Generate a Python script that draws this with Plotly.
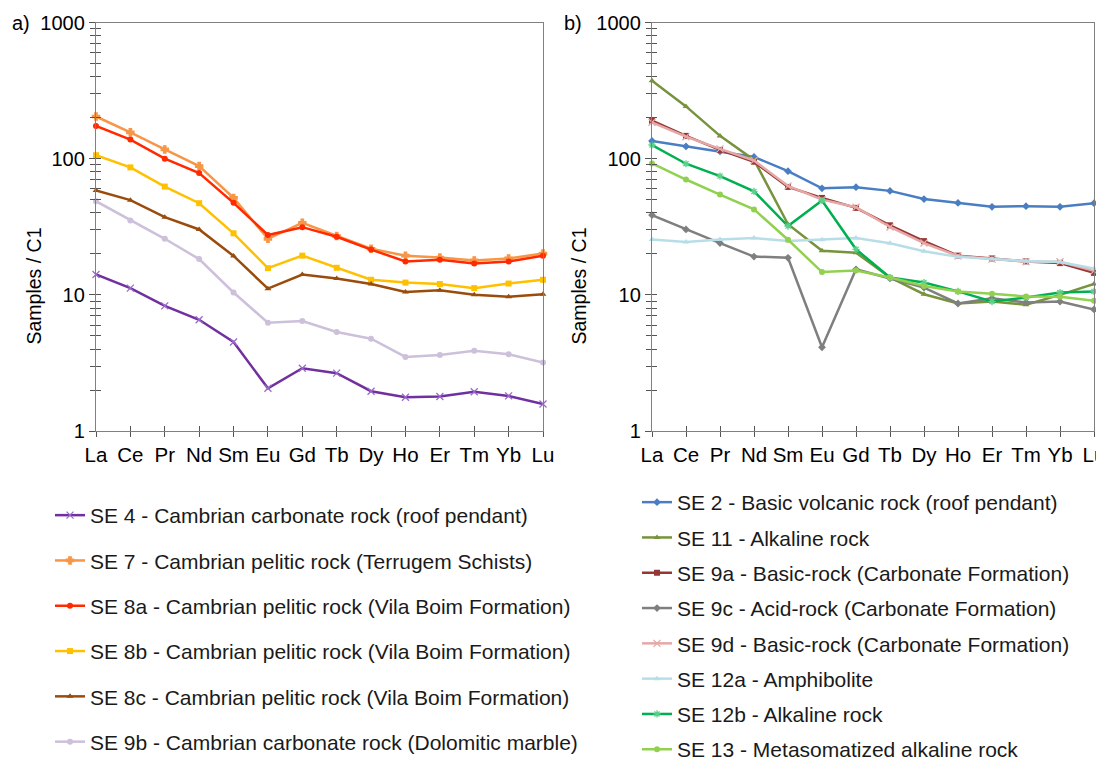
import plotly.graph_objects as go

ree = ["La", "Ce", "Pr", "Nd", "Sm", "Eu", "Gd", "Tb", "Dy", "Ho", "Er", "Tm", "Yb", "Lu"]

# Panel a)
se4 = [14.1, 11.2, 8.3, 6.56, 4.5, 2.06, 2.89, 2.66, 1.96, 1.77, 1.79, 1.94, 1.81, 1.58]
se7 = [204, 156, 117, 88.3, 51.5, 25.8, 33.8, 27.0, 21.8, 19.4, 18.8, 17.9, 18.5, 20.1]
se8a = [174, 138, 100, 78.5, 47.4, 27.5, 31.4, 26.7, 21.5, 17.6, 18.1, 17.0, 17.6, 19.4]
se8b = [106, 86.3, 62.4, 47.1, 28.3, 15.7, 19.4, 15.8, 12.9, 12.3, 12.0, 11.2, 12.1, 12.9]
se8c = [58.3, 49.6, 37.2, 30.2, 19.3, 11.1, 14.1, 13.2, 12.0, 10.5, 10.8, 10.0, 9.67, 10.1]
se9b = [48.7, 35.2, 25.8, 18.3, 10.4, 6.24, 6.42, 5.33, 4.76, 3.50, 3.62, 3.89, 3.66, 3.18]

# Panel b)
se2 = [135, 123, 113, 103, 81, 60.6, 61.7, 58, 50.5, 47.3, 44.3, 44.8, 44.3, 47.1]
se11 = [374, 242, 147, 98, 33, 21.1, 20.4, 13.4, 10.1, 8.64, 8.93, 8.45, 10.0, 12.0]
se9a = [190, 147, 116, 95, 62, 51.5, 43.5, 32.4, 24.8, 19.4, 18.5, 17.6, 17.1, 14.5]
se9c = [38.5, 30.2, 24.0, 19.1, 18.7, 4.12, 15.4, 13.2, 11.3, 8.64, 9.45, 8.79, 8.93, 7.81]
se9d = [185, 145, 118, 97, 63, 50, 44, 31.5, 24, 19.3, 18.3, 17.5, 17.5, 15.0]
se12a = [25.5, 24.4, 25.5, 26.1, 24.8, 25.4, 26.1, 23.9, 20.9, 19.0, 18.3, 17.7, 17.4, 15.6]
se12b = [126, 91.8, 74.5, 57.5, 32, 49.3, 21.6, 13.4, 12.3, 10.6, 8.93, 9.56, 10.4, 10.6]
se13 = [92.3, 70.3, 54.5, 42.4, 25.4, 14.7, 15.1, 13.4, 11.6, 10.6, 10.2, 9.72, 9.67, 9.04]

left_series = [
    ("SE 4 - Cambrian carbonate rock (roof pendant)", se4, "#7030A0", "x-thin", "#9A6CC8"),
    ("SE 7 - Cambrian pelitic rock (Terrugem Schists)", se7, "#F79646", "cross", "#F79646"),
    ("SE 8a - Cambrian pelitic rock (Vila Boim Formation)", se8a, "#FF2A00", "circle", "#FF2A00"),
    ("SE 8b - Cambrian pelitic rock (Vila Boim Formation)", se8b, "#FFC000", "square", "#FFC000"),
    ("SE 8c - Cambrian pelitic rock (Vila Boim Formation)", se8c, "#994C0C", "triangle-up", "#994C0C"),
    ("SE 9b - Cambrian carbonate rock (Dolomitic marble)", se9b, "#CCC0DA", "circle", "#CCC0DA"),
]
right_series = [
    ("SE 2 - Basic volcanic rock (roof pendant)", se2, "#4A7EC3", "diamond", "#4A7EC3"),
    ("SE 11 - Alkaline rock", se11, "#77933C", "triangle-up", "#77933C"),
    ("SE 9a - Basic-rock (Carbonate Formation)", se9a, "#953735", "square", "#953735"),
    ("SE 9c - Acid-rock (Carbonate Formation)", se9c, "#7F7F7F", "diamond", "#7F7F7F"),
    ("SE 9d - Basic-rock (Carbonate Formation)", se9d, "#E6A8A6", "x-thin", "#E6A8A6"),
    ("SE 12a - Amphibolite", se12a, "#B7DEE8", "triangle-up", "#B7DEE8"),
    ("SE 12b - Alkaline rock", se12b, "#00B050", "asterisk", "#5CD08A"),
    ("SE 13 - Metasomatized alkaline rock", se13, "#92D050", "circle", "#92D050"),
]

xs = list(range(len(ree)))
fig = go.Figure()

def add(series, xa, ya, legend, start):
    for k, (name, vals, col, sym, mcol) in enumerate(series):
        thin = sym in ("x-thin", "asterisk", "cross")
        fig.add_trace(go.Scatter(
            x=xs, y=vals, name=name, mode="lines+markers",
            xaxis=xa, yaxis=ya, legend=legend, legendgroup="g%d" % (start + k),
            cliponaxis=False,
            line=dict(color=col, width=2.5),
            marker=dict(symbol=sym, size=6 if sym != "x-thin" else 7, color=mcol,
                        line=dict(color=mcol, width=1.3 if thin else 0)),
        ))

add(left_series, "x", "y", "legend", 0)
add(right_series, "x2", "y2", "legend2", 10)

# The page body adds an 8px offset; work in screen pixels and subtract it.
OFF = 8
W, H = 1104 - OFF, 761 - OFF

def px(v):
    return (v - OFF) / W

def py(v):
    return 1 - (v - OFF) / H

L1, R1 = 96, 543
L2, R2 = 652, 1094
T, B = 22.5, 431
dx1 = [px(L1), px(R1)]
dx2 = [px(L2), px(R2)]
dy = [py(B), py(T)]

font = "Liberation Sans, Arial, Helvetica, sans-serif"
axcol = "#808080"
tcol = "#555555"

def xaxis(domain, anchor):
    return dict(domain=domain, anchor=anchor, range=[0, 13], tickvals=xs, ticktext=ree,
                showgrid=False, zeroline=False, showline=True, linecolor=axcol, linewidth=1.3,
                mirror=True, ticks="outside", ticklen=5, tickcolor=tcol,
                ticklabeloverflow="allow",
                tickfont=dict(size=20.5, color="black", family=font))

def yaxis(domain, anchor):
    return dict(domain=domain, anchor=anchor, type="log", range=[0, 3],
                tickvals=[1, 10, 100, 1000], ticktext=["1", "10", "100", "1000"],
                showgrid=False, zeroline=False, showline=True, linecolor=axcol, linewidth=1.3,
                mirror=True, ticks="outside", ticklen=6, tickcolor=tcol,
                ticklabeloverflow="allow",
                tickfont=dict(size=20, color="black", family=font),
                minor=dict(ticks="outside", ticklen=5, tickcolor=tcol, dtick="D1", showgrid=False))

def yover(over, anchor):
    return dict(overlaying=over, anchor=anchor, type="log", range=[0, 3], side="left",
                tickvals=[1, 10, 100, 1000], showticklabels=False, showgrid=False,
                zeroline=False, showline=False, ticks="inside", ticklen=5, tickcolor=tcol,
                minor=dict(ticks="inside", ticklen=5, tickcolor=tcol, dtick="D1", showgrid=False))

def xover(over, anchor):
    return dict(overlaying=over, anchor=anchor, range=[0, 13], tickvals=xs, showticklabels=False,
                showgrid=False, zeroline=False, showline=False, ticks="inside", ticklen=5,
                tickcolor=tcol, side="bottom")

# invisible traces to carry overlay axes (tick marks crossing the axis lines)
fig.add_trace(go.Scatter(x=[None], y=[None], xaxis="x3", yaxis="y3", showlegend=False, hoverinfo="skip"))
fig.add_trace(go.Scatter(x=[None], y=[None], xaxis="x4", yaxis="y4", showlegend=False, hoverinfo="skip"))

legfont = dict(size=21, color="#1a1a1a", family=font)
fig.update_layout(
    width=W, height=H, paper_bgcolor="white", plot_bgcolor="white",
    margin=dict(l=0, r=0, t=0, b=0, autoexpand=False),
    font=dict(family=font, color="black"),
    xaxis=xaxis(dx1, "y"), yaxis=yaxis(dy, "x"),
    xaxis2=xaxis(dx2, "y2"), yaxis2=yaxis(dy, "x2"),
    xaxis3=xover("x", "y3"), yaxis3=yover("y", "x3"),
    xaxis4=xover("x2", "y4"), yaxis4=yover("y2", "x4"),
    legend=dict(x=px(50), y=py(495), xanchor="left", yanchor="top", font=legfont,
                tracegroupgap=15, bgcolor="rgba(0,0,0,0)", itemwidth=30),
    legend2=dict(x=px(637), y=py(482), xanchor="left", yanchor="top", font=legfont,
                 tracegroupgap=5, bgcolor="rgba(0,0,0,0)", itemwidth=30),
    annotations=[
        dict(text="a)", x=px(10), y=py(23), xref="paper", yref="paper", xanchor="left",
             yanchor="middle", showarrow=False, font=dict(size=20, family=font)),
        dict(text="b)", x=px(562), y=py(23), xref="paper", yref="paper", xanchor="left",
             yanchor="middle", showarrow=False, font=dict(size=20, family=font)),
        dict(text="Samples / C1", x=px(20), y=py(226), xref="paper", yref="paper",
             textangle=-90, showarrow=False, font=dict(size=19.5, family=font)),
        dict(text="Samples / C1", x=px(578), y=py(226), xref="paper", yref="paper",
             textangle=-90, showarrow=False, font=dict(size=19.5, family=font)),
    ],
)

fig.write_html("out.html")
